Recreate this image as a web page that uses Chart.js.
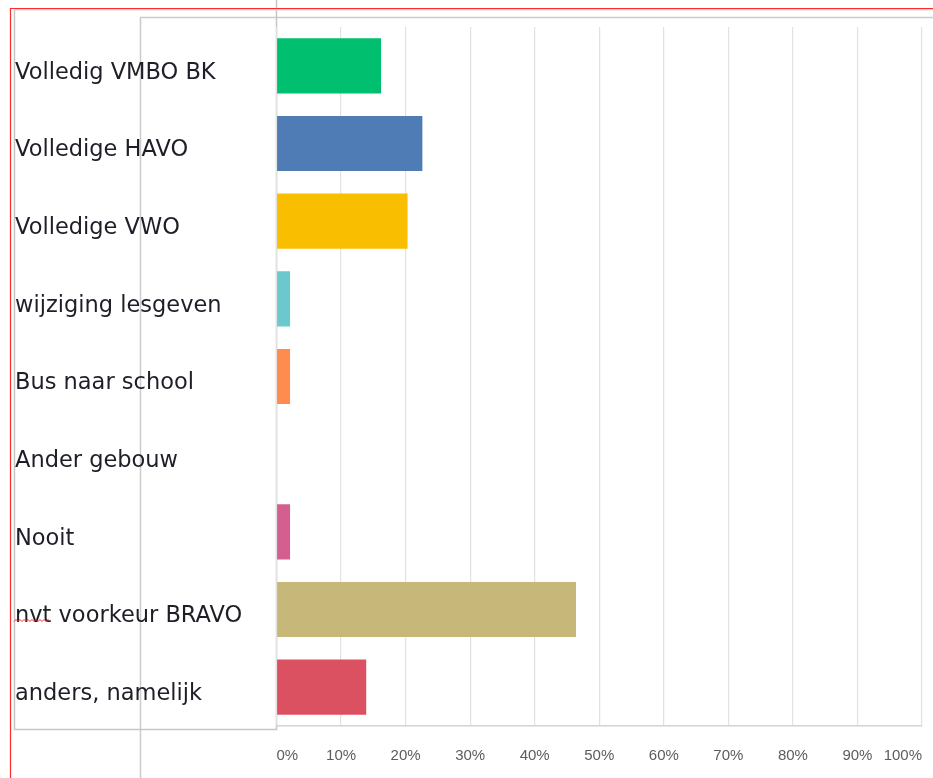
<!DOCTYPE html>
<html>
<head>
<meta charset="utf-8">
<script src="https://cdn.jsdelivr.net/npm/chart.js@4"></script>
<style>
  html, body { margin: 0; padding: 0; background: #fff; }
  #wrap { position: relative; width: 933px; height: 778px; }
</style>
</head>
<body>
<div id="wrap"><canvas id="chart" width="933" height="778"></canvas></div>
<script>
const categories = [
  "Volledig VMBO BK",
  "Volledige HAVO",
  "Volledige VWO",
  "wijziging lesgeven",
  "Bus naar school",
  "Ander gebouw",
  "Nooit",
  "nvt voorkeur BRAVO",
  "anders, namelijk",
];
const percentages = [16.2, 22.6, 20.3, 2.1, 2.1, 0, 2.1, 46.4, 13.9];
const barColors = [
  "#00BF6F",
  "#507CB6",
  "#F9BE00",
  "#6BC8CD",
  "#FF8B4F",
  "#7D5E90",
  "#D25F90",
  "#C7B879",
  "#DC5162",
];
const tickValues = [0, 10, 20, 30, 40, 50, 60, 70, 80, 90, 100];

// screenshot frame lines around the chart (not data)
const framePlugin = {
  id: "frame",
  beforeDraw(chart) {
    const ctx = chart.ctx;
    ctx.save();
    ctx.lineWidth = 1.5;
    ctx.strokeStyle = "#cbcbcb";
    // outer panel behind the chart
    ctx.beginPath();
    ctx.moveTo(140.5, 778);
    ctx.lineTo(140.5, 17.5);
    ctx.lineTo(933, 17.5);
    ctx.stroke();
    // label box
    ctx.strokeStyle = "#c6c6c6";
    ctx.beginPath();
    ctx.moveTo(14.5, 9.5);
    ctx.lineTo(14.5, 729.5);
    ctx.lineTo(276.5, 729.5);
    ctx.lineTo(276.5, 0);
    ctx.stroke();
    ctx.beginPath();
    ctx.moveTo(14.5, 9.5);
    ctx.lineTo(933, 9.5);
    ctx.strokeStyle = "#e6d0d0";
    ctx.stroke();
    // red window edge
    ctx.lineWidth = 1.2;
    ctx.strokeStyle = "#ff2a2a";
    ctx.beginPath();
    ctx.moveTo(10.5, 778);
    ctx.lineTo(10.5, 8.5);
    ctx.lineTo(933, 8.5);
    ctx.stroke();
    ctx.restore();
  },
  afterDraw(chart) {
    // spellcheck squiggle under "nvt"
    const ctx = chart.ctx;
    ctx.save();
    ctx.strokeStyle = "#e23030";
    ctx.lineWidth = 1;
    ctx.beginPath();
    for (let x = 14; x <= 50; x += 2) {
      const y = (x / 2) % 2 === 0 ? 619.5 : 621.5;
      if (x === 14) ctx.moveTo(x, y);
      else ctx.lineTo(x, y);
    }
    ctx.stroke();
    ctx.restore();
  },
};

const chart = new Chart(document.getElementById("chart"), {
  type: "bar",
  data: {
    labels: categories,
    datasets: [
      {
        data: percentages,
        backgroundColor: barColors,
        borderWidth: 0,
        barPercentage: 0.71,
        categoryPercentage: 1,
      },
    ],
  },
  options: {
    indexAxis: "y",
    responsive: false,
    animation: false,
    layout: {
      padding: { top: 27, left: 15, right: 11, bottom: 0 },
    },
    plugins: {
      legend: { display: false },
      tooltip: { enabled: false },
    },
    scales: {
      x: {
        min: 0,
        max: 100,
        afterBuildTicks: (scale) => {
          scale.ticks = tickValues.map((v) => ({ value: v }));
        },
        afterFit: (scale) => {
          scale.height = 52;
          scale.paddingLeft = 0;
          scale.paddingRight = 0;
        },
        grid: {
          color: "#e2e2e2",
          lineWidth: 1.2,
          drawTicks: false,
        },
        border: { display: true, color: "#d4d4d4", width: 1.5 },
        ticks: {
          align: "inner",
          padding: 21,
          color: "#5c5c5c",
          font: { family: "'Liberation Sans', Arial, sans-serif", size: 15 },
          callback: (v) => v + "%",
        },
      },
      y: {
        afterFit: (scale) => {
          scale.width = 261.5;
        },
        grid: { display: false, drawTicks: false },
        border: { display: false },
        ticks: {
          crossAlign: "far",
          labelOffset: 7,
          padding: 0,
          color: "#1e1e28",
          font: { family: "'DejaVu Sans', Verdana, sans-serif", size: 22.5 },
        },
      },
    },
  },
  plugins: [framePlugin],
});
</script>
</body>
</html>
